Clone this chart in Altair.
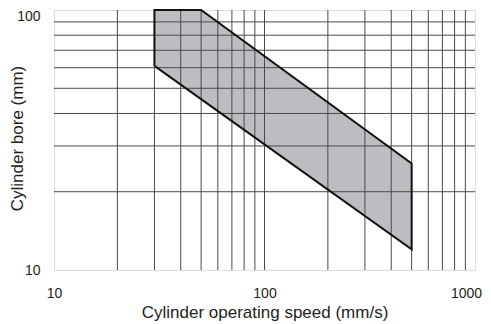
import altair as alt
import pandas as pd

# Operating range polygon (log-log)
speed = [30, 30, 50, 500, 500, 30]
bore = [61, 100, 100, 25.7, 12, 61]
order = [0, 1, 2, 3, 4, 5]

# grid lines
x_grid = [20, 30, 40, 50, 60, 70, 80, 90, 100, 200, 300, 400, 500, 600, 700, 800, 900]
y_grid = [20, 30, 40, 50, 60, 70, 80, 90]
x_labels = [10, 100, 1000]
y_labels = [10, 100]

poly = pd.DataFrame({"speed": speed, "bore": bore, "ord": order})
xg = pd.DataFrame({"v": x_grid})
yg = pd.DataFrame({"v": y_grid})

FONT = "Liberation Sans"
TXT = "#231f20"

xscale = alt.Scale(type="log", domain=[10, 1000], nice=False)
yscale = alt.Scale(type="log", domain=[10, 100], nice=False)

xaxis = alt.Axis(values=x_labels, format="d", domain=False, ticks=False, grid=False,
                 labelFlush=False,
                 labelOffset={"condition": {"test": "datum.value == 1000", "value": -9}, "value": 0},
                 labelFont=FONT, labelFontSize=14, labelColor=TXT, labelPadding=16,
                 title="Cylinder operating speed (mm/s)", titleFont=FONT, titleFontSize=17,
                 titleFontWeight="normal", titleColor=TXT, titleY=42, titleBaseline="middle")
yaxis = alt.Axis(values=y_labels, format="d", domain=False, ticks=False, grid=False,
                 labelFlush=False,
                 labelFont=FONT, labelFontSize=14, labelColor=TXT, labelPadding=14,
                 labelOffset={"condition": {"test": "datum.value == 100", "value": 6}, "value": 0},
                 title="Cylinder bore (mm)", titleFont=FONT, titleFontSize=17,
                 titleFontWeight="normal", titleColor=TXT, titleX=-37, titleY=128,
                 titleBaseline="middle", titleAlign="center", titleAngle=-90)

fill = alt.Chart(poly).mark_line(fill="#bcbdc0", strokeOpacity=0).encode(
    x=alt.X("speed:Q", scale=xscale, axis=xaxis),
    y=alt.Y("bore:Q", scale=yscale, axis=yaxis),
    order="ord:Q",
)

vrules = alt.Chart(xg).mark_rule(color="#4a4a4a", strokeWidth=1).encode(
    x=alt.X("v:Q", scale=xscale)
)
hrules = alt.Chart(yg).mark_rule(color="#4a4a4a", strokeWidth=1).encode(
    y=alt.Y("v:Q", scale=yscale)
)

outline = alt.Chart(poly).mark_line(color="#111111", strokeWidth=2).encode(
    x=alt.X("speed:Q", scale=xscale),
    y=alt.Y("bore:Q", scale=yscale),
    order="ord:Q",
)

chart = alt.layer(fill, vrules, hrules, outline).properties(
    width=421, height=260,
    autosize=alt.AutoSizeParams(type="none"),
    padding={"left": 46, "top": 2, "right": 8, "bottom": 54},
).configure_view(
    fill="#e6e6e8", stroke="#222222", strokeWidth=1.5
).configure(background="white")

chart.save("out.html", embed_options={"renderer": "svg", "actions": False})
